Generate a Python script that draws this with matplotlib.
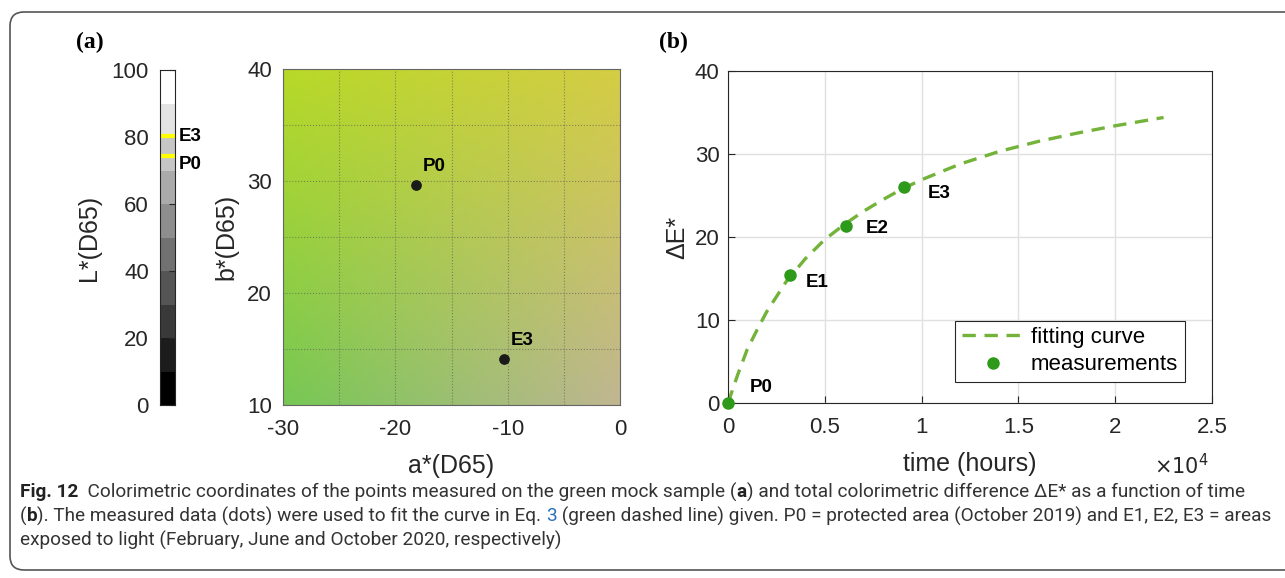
import numpy as np
import matplotlib
matplotlib.use('Agg')
import matplotlib.pyplot as plt
from matplotlib.colors import ListedColormap
from matplotlib.patches import FancyBboxPatch
from matplotlib.transforms import IdentityTransform

#%% data
# (a) lightness scale and measured points
L_edges = [0, 10, 20, 30, 40, 50, 60, 70, 80, 90, 100]
L_names = ['E3', 'P0']
L_values = [80.2, 74.4]
ab_names = ['P0', 'E3']
a_values = [-18.2, -10.3]
b_values = [29.6, 14.1]

# (b) colour difference vs time (time in 1e4 hours)
meas_names = ['P0', 'E1', 'E2', 'E3']
meas_time = [0, 0.32, 0.61, 0.91]
meas_dE = [0, 15.4, 21.3, 26.0]
fit_time = [0, 0.05, 0.1, 0.15, 0.2, 0.3, 0.4, 0.5, 0.6, 0.7, 0.8, 0.9, 1.0,
            1.2, 1.4, 1.6, 1.8, 2.0, 2.25]
fit_dE = [0, 3.4, 6.5, 8.8, 11.0, 14.6, 17.4, 19.7, 21.5, 23.1, 24.5, 25.8, 26.9,
          28.8, 30.3, 31.5, 32.5, 33.4, 34.4]

#%% style
plt.rcdefaults()
plt.rcParams.update({
    'font.family': ['Liberation Sans', 'DejaVu Sans'],
    'font.size': 16,
    'axes.unicode_minus': False,
    'axes.edgecolor': '#262626',
    'xtick.color': '#262626',
    'ytick.color': '#262626',
    'xtick.direction': 'in',
    'ytick.direction': 'in',
    'axes.linewidth': 0.8,
})
W, H = 1285, 578
fig = plt.figure(figsize=(W / 100, H / 100), dpi=100)


def box(x0, y0, x1, y1):
    # pixel box (top-left origin) -> figure fraction
    return [x0 / W, 1 - y1 / H, (x1 - x0) / W, (y1 - y0) / H]


txt_col = '#262626'
green_dot = '#2e9a1a'
green_line = '#74b33a'

#%% colorbar (L*)
axc = fig.add_axes(box(160, 70, 175, 405))
grays = np.linspace(0, 1, len(L_edges) - 1)
cmap_g = ListedColormap([(g, g, g) for g in grays])
axc.pcolormesh([0, 1], L_edges, np.arange(len(L_edges) - 1).reshape(-1, 1),
               cmap=cmap_g, shading='flat')
for name, v in zip(L_names, L_values):
    axc.axhline(v, color='#ffff00', lw=3)
axc.text(1.25, L_values[0], L_names[0], transform=axc.get_yaxis_transform(),
         fontsize=13.5, fontweight='bold', va='center', ha='left')
axc.text(1.25, L_values[1] - 2.7, L_names[1], transform=axc.get_yaxis_transform(),
         fontsize=13.5, fontweight='bold', va='center', ha='left')
axc.set_xlim(0, 1)
axc.set_ylim(0, 100)
axc.set_xticks([])
axc.set_yticks([0, 20, 40, 60, 80, 100])
axc.tick_params(axis='y', left=False, right=True, labelleft=True, length=4, pad=8,
                labelsize=16)
axc.set_ylabel('L*(D65)', fontsize=18, color=txt_col, labelpad=8)

#%% (a) a*b* plane
axa = fig.add_axes(box(283, 69, 620, 405))
# smooth background: blend of four corner colours
c_bl = np.array([118, 200, 84]) / 255.0
c_br = np.array([192, 182, 146]) / 255.0
c_tl = np.array([184, 217, 40]) / 255.0
c_tr = np.array([212, 205, 68]) / 255.0
u = np.linspace(0, 1, 200)[None, :, None]
v = np.linspace(0, 1, 200)[:, None, None]
bg = (1 - v) * ((1 - u) * c_bl + u * c_br) + v * ((1 - u) * c_tl + u * c_tr)
axa.imshow(bg, extent=[-30, 0, 10, 40], origin='lower', aspect='auto')
axa.scatter(a_values, b_values, s=45, color='#1a1a1a', zorder=3)
for name, a, b in zip(ab_names, a_values, b_values):
    axa.text(a + 0.6, b + 1.7, name, fontsize=13.5, fontweight='bold', ha='left',
             va='center')
axa.set_xlim(-30, 0)
axa.set_ylim(10, 40)
axa.set_xticks([-30, -20, -10, 0])
axa.set_yticks([10, 20, 30, 40])
axa.set_xticks(np.arange(-25, 0, 5), minor=True)
axa.set_yticks(np.arange(15, 40, 5), minor=True)
axa.grid(True, which='both', ls=':', color='#555555', lw=0.8, alpha=0.6)
axa.tick_params(which='both', length=0, labelsize=16)
axa.tick_params(axis='x', pad=10)
axa.tick_params(axis='y', pad=8)
for s in axa.spines.values():
    s.set_color('#666666')
axa.set_xlabel('a*(D65)', fontsize=18, color=txt_col, labelpad=10)
axa.set_ylabel('b*(D65)', fontsize=18, color=txt_col, labelpad=6)

fig.text(90 / W, 1 - 42 / H, '(a)', family='Liberation Serif', fontweight='bold',
         fontsize=17, ha='center', va='center')

#%% (b) delta E vs time
axb = fig.add_axes(box(728, 71, 1212, 403))
axb.plot(fit_time, fit_dE, '--', color=green_line, lw=2.4, dashes=(4, 2.6),
         label='fitting curve')
axb.plot(meas_time, meas_dE, 'o', color=green_dot, ms=8, label='measurements',
         zorder=3, clip_on=False)
label_pos = [(0.11, 1.9), (0.40, 14.5), (0.71, 21.0), (1.03, 25.3)]
for name, (x, y) in zip(meas_names, label_pos):
    axb.text(x, y, name, fontsize=13.5, fontweight='bold', ha='left', va='center')
axb.set_xlim(0, 2.5)
axb.set_ylim(0, 40)
axb.set_xticks([0, 0.5, 1, 1.5, 2, 2.5])
axb.set_xticklabels(['0', '0.5', '1', '1.5', '2', '2.5'])
axb.set_yticks([0, 10, 20, 30, 40])
axb.grid(True, color='#e0e0e0', lw=1)
axb.set_axisbelow(True)
axb.tick_params(length=5, labelsize=16)
axb.tick_params(axis='x', pad=10)
axb.tick_params(axis='y', pad=6)
axb.set_xlabel('time (hours)', fontsize=18, color=txt_col, labelpad=10)
axb.set_ylabel('ΔE*', fontsize=18, color=txt_col, labelpad=4)
leg = axb.legend(loc='lower right', bbox_to_anchor=(0.944, 0.063), fontsize=16,
                 fancybox=False, edgecolor='#262626', framealpha=1, borderpad=0.3,
                 borderaxespad=0, handlelength=2.8, handletextpad=0.3,
                 labelspacing=0.28)
leg.get_frame().set_linewidth(0.8)
fig.text(1181 / W, 1 - 466 / H, r'$\times 10^{4}$', fontsize=15, color=txt_col,
         ha='center', va='center')

fig.text(673 / W, 1 - 42 / H, '(b)', family='Liberation Serif', fontweight='bold',
         fontsize=17, ha='center', va='center')

#%% caption
cap_font = ['Roboto', 'DejaVu Sans']
cap_lines = [
    [('Fig. 12', 'bold', '#222222'),
     ('  Colorimetric coordinates of the points measured on the green mock sample (', 'normal', '#333333'),
     ('a', 'bold', '#222222'),
     (') and total colorimetric difference \u0394E* as a function of time', 'normal', '#333333')],
    [('(', 'normal', '#333333'), ('b', 'bold', '#222222'),
     ('). The measured data (dots) were used to fit the curve in Eq. ', 'normal', '#333333'),
     ('3', 'normal', '#2a6ebb'),
     (' (green dashed line) given. P0 = protected area (October 2019) and E1, E2, E3 = areas', 'normal', '#333333')],
    [('exposed to light (February, June and October 2020, respectively)', 'normal', '#333333')],
]
cap_y = [492, 516, 540]
renderer = fig.canvas.get_renderer()

# find a size that lets the longest line end near x = 1275
probe = 14.0
longest = 0
for runs in cap_lines:
    wsum = 0
    for s, w, c in runs:
        t = fig.text(0, 0, s, family=cap_font, fontweight=w, fontsize=probe)
        wsum += t.get_window_extent(renderer).width
        t.remove()
    longest = max(longest, wsum)
cap_size = probe * (1275 - 20) / longest

for runs, yp in zip(cap_lines, cap_y):
    x = 20
    for s, w, c in runs:
        t = fig.text(x / W, 1 - yp / H, s, family=cap_font, fontweight=w, color=c,
                     fontsize=cap_size, ha='left', va='center')
        x += t.get_window_extent(renderer).width

#%% frame
frame = FancyBboxPatch((10, H - 570), 1320, 558,
                       boxstyle='round,pad=0,rounding_size=14',
                       transform=IdentityTransform(), fill=False,
                       edgecolor='#555555', lw=1.2)
fig.add_artist(frame)

fig.savefig('out.png', dpi=100)
